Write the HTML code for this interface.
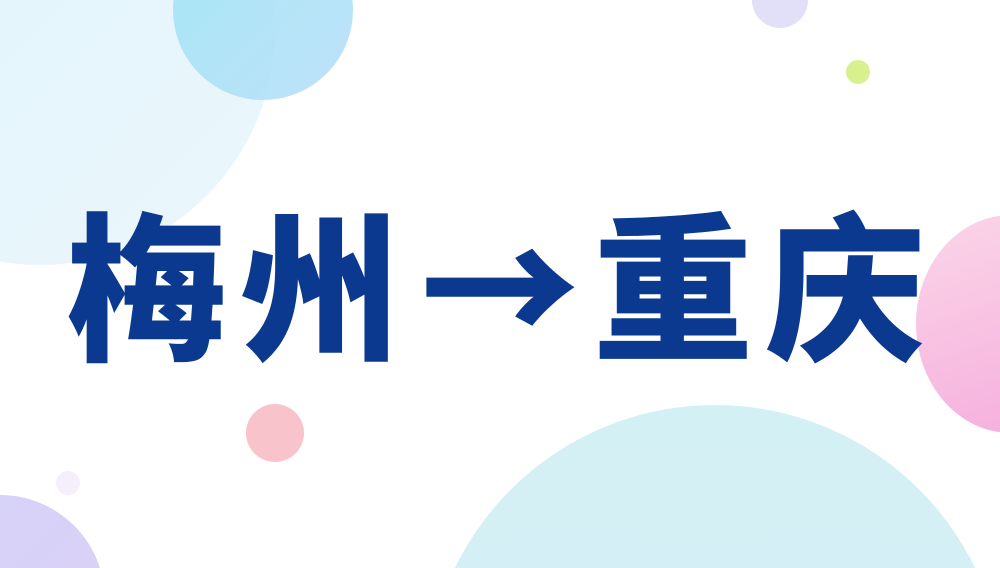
<!DOCTYPE html>
<html><head><meta charset="utf-8"><style>
html,body{margin:0;padding:0;width:1000px;height:568px;overflow:hidden;background:#fff}
#w{position:relative;width:1000px;height:568px;overflow:hidden}
svg{position:absolute;left:0;top:0}
.t{position:absolute;top:184px;font-family:"Noto Sans CJK SC","WenQuanYi Zen Hei",sans-serif;font-weight:900;font-size:160px;line-height:190px;color:#0b3990;width:180px;text-align:center}
</style></head><body><div id="w">
<svg width="1000" height="568" viewBox="0 0 1000 568">
<defs>
<linearGradient id="g1" x1="0" y1="0" x2="1" y2="1"><stop offset="0" stop-color="#d8f3fb"/><stop offset="1" stop-color="#e8f5fb"/></linearGradient>
<linearGradient id="g2" x1="0" y1="0" x2="1" y2="1"><stop offset="0" stop-color="#9fe6f4"/><stop offset="1" stop-color="#b8def8"/></linearGradient>
<linearGradient id="g3" x1="0" y1="0" x2="0.3" y2="1"><stop offset="0" stop-color="#fbd6e8"/><stop offset="1" stop-color="#f6b2de"/></linearGradient>
<linearGradient id="g4" x1="0" y1="0" x2="1" y2="1"><stop offset="0" stop-color="#d5d2fa"/><stop offset="1" stop-color="#dcd0f4"/></linearGradient>
<linearGradient id="g5" x1="0" y1="0" x2="0" y2="1"><stop offset="0" stop-color="#d3f1f5"/><stop offset="1" stop-color="#d8eaf5"/></linearGradient>
</defs>
<circle cx="40" cy="30" r="235" fill="url(#g1)" opacity=".85"/>
<circle cx="263" cy="10" r="90" fill="url(#g2)" opacity=".9"/>
<circle cx="780" cy="0" r="28" fill="#e2dff8"/>
<circle cx="858" cy="72" r="12" fill="#d9f08e"/>
<ellipse cx="1011" cy="324" rx="95" ry="109" fill="url(#g3)"/>
<circle cx="275" cy="433" r="29" fill="#f9c3cb"/>
<circle cx="68" cy="483" r="12" fill="#f4effa"/>
<circle cx="0" cy="600" r="105" fill="url(#g4)"/>
<circle cx="715" cy="694" r="289" fill="url(#g5)"/>
</svg>
<div class="t" style="left:57px">梅</div>
<div class="t" style="left:230px">州</div>
<div class="t" style="left:410px">→</div>
<div class="t" style="left:583px">重</div>
<div class="t" style="left:755px">庆</div>
</div></body></html>
